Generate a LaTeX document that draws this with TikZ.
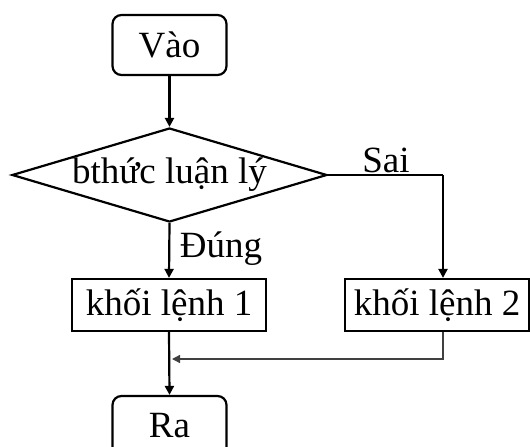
\documentclass[tikz,border=0pt]{standalone}
\usepackage{fontspec}
\setmainfont{Liberation Serif}
\usetikzlibrary{shapes.geometric,arrows.meta,calc}
\begin{document}
\begin{tikzpicture}[x=1pt,y=-1pt,
  every node/.style={font=\fontsize{37}{42}\selectfont},
  termbox/.style={draw,line width=2.2pt,rounded corners=9pt,minimum width=114pt,minimum height=60pt,inner sep=0pt},
  blockbox/.style={draw,line width=2.2pt,minimum height=52pt,inner sep=0pt},
  decision/.style={draw,line width=2.2pt,shape=diamond,aspect=3.35,minimum width=315pt,minimum height=94pt,inner sep=0pt},
  flow/.style={line width=2.2pt,-{Triangle[length=9pt,width=9pt]}},
  back/.style={line width=1.3pt,draw=black!75,-{Triangle[length=8pt,width=8pt]}},
  lbl/.style={inner sep=0pt}]
\useasboundingbox (0,0) rectangle (530,447);
\clip (0,0) rectangle (530,447);
\node[termbox] (vao) at (169.5,45) {Vào};
\node[decision] (cond) at (169.5,175) {bthức luận lý};
\node[blockbox,minimum width=194pt] (k1) at (169,305) {khối lệnh 1};
\node[blockbox,minimum width=184pt] (k2) at (437,305) {khối lệnh 2};
\node[termbox] (ra) at (169.5,426) {Ra};
\coordinate (s) at (443,175);
\coordinate (j) at (169,359);
\draw[flow] (vao) -- (cond.north);
\draw[flow] (cond.south) -- (k1.north);
\draw[line width=2.2pt] (cond.east) -- (s);
\draw[flow] (s) -- (s |- k2.north);
\draw[back] (s |- k2.south) |- ($(j)+(3,0)$);
\draw[flow] (k1.south) -- (ra.north);
\node[lbl] (sai) at (386,160) {Sai};
\node[lbl] (dung) at (221,249) {Đúng};
\end{tikzpicture}
\end{document}
